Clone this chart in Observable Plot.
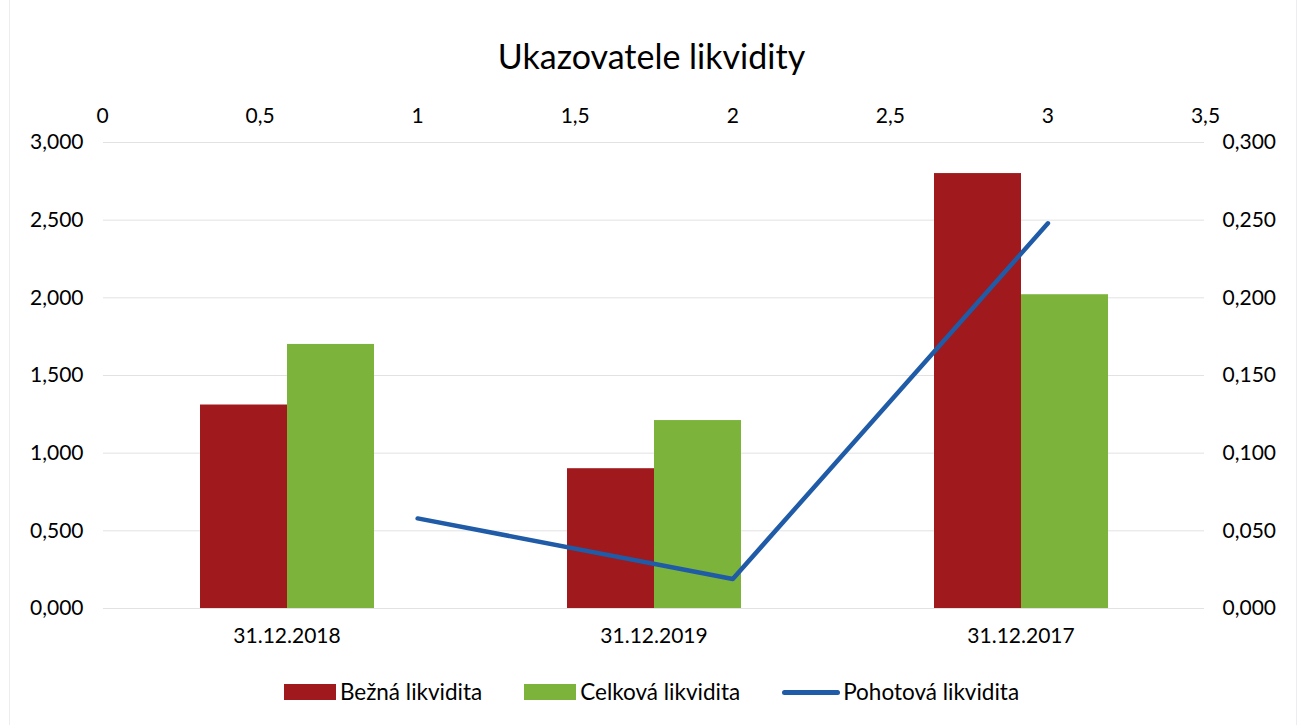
<!DOCTYPE html>
<html>
<head>
<meta charset="utf-8">
<script src="https://cdn.jsdelivr.net/npm/d3@7"></script>
<script src="https://cdn.jsdelivr.net/npm/@observablehq/plot@0.6"></script>
<style>
  html, body { margin: 0; padding: 0; background: #fff; }
  #wrap { position: relative; width: 1303px; height: 726px; overflow: hidden; font-family: Lato, "Open Sans", sans-serif; color: #000; }
  #frame { position: absolute; left: 9px; top: 0; width: 1286px; height: 725px; border-left: 1px solid #ececf2; border-right: 1px solid #ececf2; }
  #title { position: absolute; top: 34px; left: 0; width: 1303px; text-align: center; font-size: 34px; line-height: 44px; }
  .layer { position: absolute; left: 0; top: 90px; }
  #legend { position: absolute; top: 678px; left: 0; width: 1303px; display: flex; justify-content: center; align-items: center; font-size: 22.5px; line-height: 28px; }
  .item { display: flex; align-items: center; margin: 0 21px; }
  .sw { width: 52px; height: 16px; margin-right: 4px; }
  .ln { width: 58px; height: 5px; border-radius: 3px; margin-right: 3px; }
</style>
</head>
<body>
<div id="wrap">
  <div id="frame"></div>
  <div id="title">Ukazovatele likvidity</div>
  <div id="bars" class="layer"></div>
  <div id="lines" class="layer"></div>
  <div id="legend"></div>
</div>
<script>
const categories = ["31.12.2018", "31.12.2019", "31.12.2017"];
const seriesNames = ["Bežná likvidita", "Celková likvidita", "Pohotová likvidita"];
const bezna = [1.31, 0.90, 2.80];
const celkova = [1.70, 1.21, 2.02];
const pohotova = [0.058, 0.019, 0.248];
const pohotovaX = [1, 2, 3];
const leftTicks = [0, 0.5, 1, 1.5, 2, 2.5, 3];
const rightTicks = [0, 0.05, 0.1, 0.15, 0.2, 0.25, 0.3];
const topTicks = [0, 0.5, 1, 1.5, 2, 2.5, 3, 3.5];
const colors = ["#A0191C", "#7CB43B", "#1F5BA6"];

const comma3 = d => d3.format(".3f")(d).replace(".", ",");
const commaN = d => String(d).replace(".", ",");

const barData = [];
categories.forEach((c, i) => {
  barData.push({cat: c, series: seriesNames[0], value: bezna[i]});
  barData.push({cat: c, series: seriesNames[1], value: celkova[i]});
});
const lineData = pohotovaX.map((x, i) => ({x, y: pohotova[i]}));

const W = 1303, H = 568;
const margins = {marginLeft: 102, marginRight: 98, marginTop: 52, marginBottom: 50};
const style = {fontSize: "21px", fontFamily: "Lato, 'Open Sans', sans-serif", background: "transparent", color: "#000", overflow: "visible"};

const p1 = Plot.plot({
  width: W, height: H, ...margins, style,
  fx: {domain: categories, padding: 0, axis: "bottom", tickSize: 0, tickPadding: 20, label: null},
  x: {domain: seriesNames.slice(0, 2), paddingInner: 0, paddingOuter: 1.09, axis: null},
  y: {domain: [0, 3], ticks: leftTicks, tickFormat: comma3, tickSize: 0, tickPadding: 20, label: null},
  color: {domain: seriesNames.slice(0, 2), range: colors.slice(0, 2)},
  marks: [
    Plot.gridY(leftTicks, {stroke: "#e2e2e2", strokeOpacity: 1, strokeWidth: 1}),
    Plot.barY(barData, {fx: "cat", x: "series", y: "value", fill: "series"})
  ]
});
document.getElementById("bars").appendChild(p1);

const p2 = Plot.plot({
  width: W, height: H, ...margins, style,
  x: {domain: [0, 3.5], ticks: topTicks, tickFormat: commaN, axis: "top", tickSize: 0, tickPadding: 20, label: null},
  y: {domain: [0, 0.3], ticks: rightTicks, tickFormat: comma3, axis: "right", tickSize: 0, tickPadding: 17, label: null},
  marks: [
    Plot.line(lineData, {x: "x", y: "y", stroke: colors[2], strokeWidth: 4.5, strokeLinecap: "round", strokeLinejoin: "round"})
  ]
});
document.getElementById("lines").appendChild(p2);

const legend = document.getElementById("legend");
seriesNames.forEach((name, i) => {
  const it = document.createElement("div");
  it.className = "item";
  const sw = document.createElement("div");
  sw.className = i < 2 ? "sw" : "ln";
  sw.style.background = colors[i];
  const tx = document.createElement("span");
  tx.textContent = name;
  it.appendChild(sw); it.appendChild(tx);
  legend.appendChild(it);
});
</script>
</body>
</html>
